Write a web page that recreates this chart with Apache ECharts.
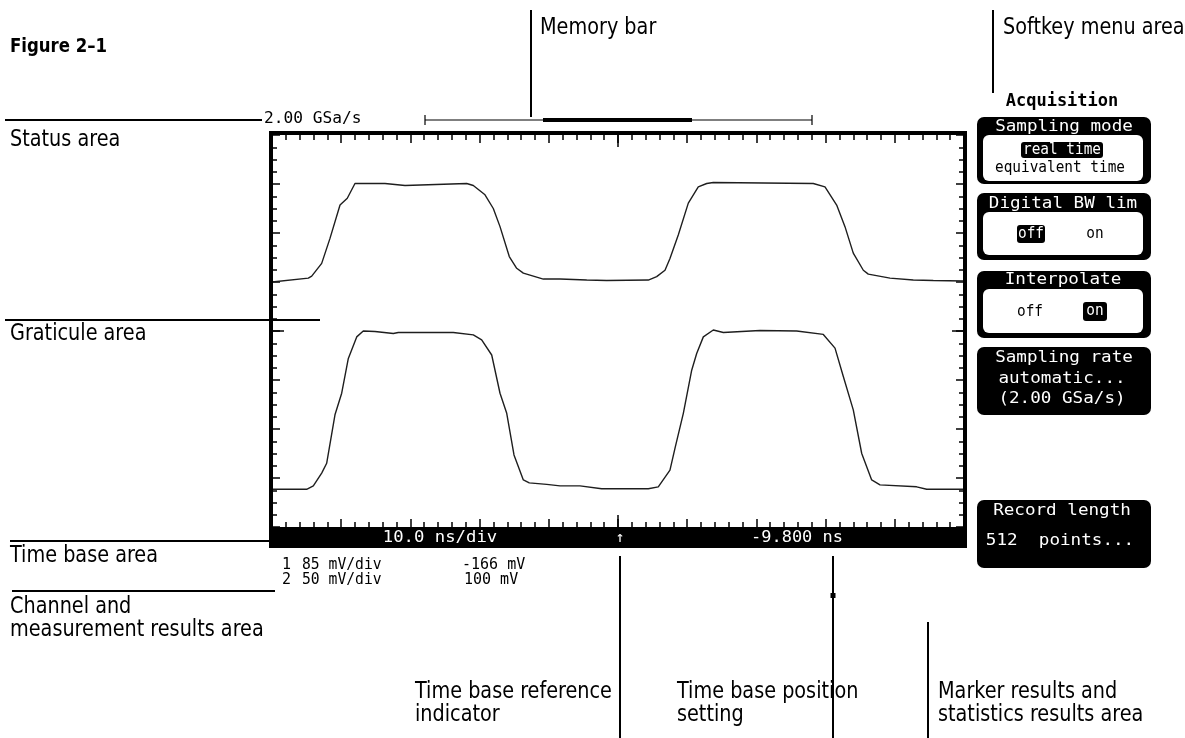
<!DOCTYPE html>
<html>
<head>
<meta charset="utf-8">
<title>Figure 2-1</title>
<script src="https://cdn.jsdelivr.net/npm/echarts@6/dist/echarts.min.js"></script>
<style>
html, body { margin: 0; padding: 0; background: #fff; }
#chart { width: 1185px; height: 738px; }
</style>
</head>
<body>
<div id="chart"></div>
<script>
// time in ns from left edge of the graticule (10 ns/div), level in divisions from the bottom
const ch1Time = [0, 5.25, 5.74, 7.18, 8.38, 9.83, 10.88, 11.99, 16.33, 16.58, 19.22, 19.47, 28.14, 29.09, 30.78, 31.98, 32.95, 34.29, 35.36, 36.32, 39.21, 41.62, 45.48, 48.37, 54.38, 55.59, 56.79, 57.51, 58.71, 60.16, 61.6, 62.82, 63.77, 78.22, 79.91, 81.6, 82.8, 84.0, 85.45, 86.17, 89.31, 92.67, 95.56, 100];
const ch1Level = [5.0, 5.08, 5.12, 5.38, 5.89, 6.57, 6.71, 7.01, 7.01, 6.97, 6.97, 7.01, 7.01, 6.97, 6.78, 6.5, 6.13, 5.52, 5.28, 5.18, 5.06, 5.06, 5.04, 5.03, 5.04, 5.11, 5.24, 5.48, 5.96, 6.61, 6.94, 7.01, 7.03, 7.01, 6.94, 6.57, 6.13, 5.59, 5.24, 5.16, 5.08, 5.04, 5.03, 5.02];
const ch2Time = [0, 5.01, 5.97, 7.18, 7.9, 9.1, 10.07, 11.03, 12.24, 13.19, 14.88, 17.53, 18.25, 26.2, 29.09, 30.3, 31.75, 32.95, 33.92, 34.97, 36.32, 37.18, 39.7, 41.62, 44.51, 47.64, 54.38, 55.82, 57.51, 58.24, 59.44, 60.65, 61.37, 62.33, 63.77, 65.22, 70.52, 75.82, 79.67, 81.36, 82.56, 84.0, 85.22, 86.66, 87.86, 93.16, 94.61, 100];
const ch2Level = [0.77, 0.77, 0.84, 1.1, 1.3, 2.29, 2.73, 3.44, 3.88, 4.0, 3.99, 3.95, 3.97, 3.97, 3.92, 3.82, 3.51, 2.73, 2.32, 1.47, 0.96, 0.9, 0.87, 0.84, 0.84, 0.78, 0.78, 0.82, 1.16, 1.61, 2.32, 3.2, 3.54, 3.88, 4.02, 3.97, 4.01, 4.0, 3.93, 3.65, 3.07, 2.39, 1.5, 0.96, 0.86, 0.82, 0.77, 0.77];

const timeRange = [0, 100];   // 10 divisions
const levelRange = [0, 8];    // 8 divisions

const statusText = '2.00 GSa/s';
const timebaseTexts = ['10.0 ns/div', '↑', '-9.800 ns'];
const channelRows = [['1', '85 mV/div', '-166 mV'], ['2', '50 mV/div', '100 mV']];

const chart = echarts.init(document.getElementById('chart'));

const NOTE = '23px "Liberation Sans Narrow", "DejaVu Sans Condensed", sans-serif';
const MONO = '"DejaVu Sans Mono", "Liberation Mono", monospace';

function line(x1, y1, x2, y2, w) {
    return { type: 'line', z: 50, shape: { x1, y1, x2, y2 }, style: { stroke: '#000', lineWidth: w || 2 } };
}
function label(x, y, text, font, fill, align, sx) {
    return {
        type: 'text', z: 60, x, y, scaleX: sx || 1,
        style: { text, font, fill: fill || '#000', textAlign: align || 'left', align: align || 'left', textVerticalAlign: 'middle', verticalAlign: 'middle' }
    };
}
function note(x, y, text) {
    return label(x, y, text, NOTE, '#000', 'left', 0.93);
}
function box(x, y, w, h, fill, r) {
    return { type: 'rect', z: 40, shape: { x, y, width: w, height: h, r: r || 0 }, style: { fill } };
}

const tickAxis = (pos, max, interval, split) => ({
    type: 'value', position: pos, min: 0, max, interval,
    axisLine: { show: false, onZero: false }, axisLabel: { show: false }, splitLine: { show: false },
    axisTick: { show: true, inside: true, length: 8, lineStyle: { color: '#000', width: 1.5 } },
    minorTick: { show: true, splitNumber: split, length: 5, lineStyle: { color: '#000', width: 1.5 } }
});

const KEY = '16px ' + MONO;
const graphics = [
    // annotations
    label(10, 47, 'Figure 2–1', 'bold 20px "Liberation Sans Narrow", "DejaVu Sans Condensed", sans-serif', '#000', 'left', 0.92),
    line(531, 10, 531, 117), note(540, 28, 'Memory bar'),
    line(993, 10, 993, 93), note(1003, 28, 'Softkey menu area'),
    line(5, 120, 262, 120), note(10, 140, 'Status area'),
    line(5, 320, 320, 320), note(10, 334, 'Graticule area'),
    line(10, 541, 270, 541), note(10, 556, 'Time base area'),
    line(12, 591, 275, 591), note(10, 607, 'Channel and'), note(10, 630, 'measurement results area'),
    line(620, 556, 620, 738), note(415, 692, 'Time base reference'), note(415, 715, 'indicator'),
    line(833, 556, 833, 738), { type: 'rect', z: 50, shape: { x: 830.5, y: 593, width: 5, height: 5 }, style: { fill: '#000' } },
    note(677, 692, 'Time base position'), note(677, 715, 'setting'),
    line(928, 622, 928, 738), note(938, 692, 'Marker results and'), note(938, 715, 'statistics results area'),

    // status line and memory bar
    label(264, 119, statusText, '15px ' + MONO, '#000', 'left', 1.08),
    line(425, 120, 812, 120, 1.2), line(425, 115, 425, 125, 1.2), line(812, 115, 812, 125, 1.2),
    line(543, 120, 692, 120, 4),

    // screen frame and time base bar
    { type: 'rect', z: 45, shape: { x: 271, y: 133, width: 694, height: 412 }, style: { fill: 'none', stroke: '#000', lineWidth: 4 } },
    box(269, 527, 698, 21, '#000'),
    label(440, 538, timebaseTexts[0], '16px ' + MONO, '#fff', 'center', 1.08),
    label(620, 538, timebaseTexts[1], '15px ' + MONO, '#fff', 'center'),
    label(797, 538, timebaseTexts[2], '16px ' + MONO, '#fff', 'center', 1.06),

    // channel rows
    label(282, 565, channelRows[0][0], '15px ' + MONO), label(302, 565, channelRows[0][1], '15px ' + MONO, '#000', 'left', 0.98), label(462, 565, channelRows[0][2], '15px ' + MONO, '#000', 'left', 1.0),
    label(282, 580, channelRows[1][0], '15px ' + MONO), label(302, 580, channelRows[1][1], '15px ' + MONO, '#000', 'left', 0.98), label(464, 580, channelRows[1][2], '15px ' + MONO, '#000', 'left', 1.0),

    // softkey menu
    label(1062, 102, 'Acquisition', 'bold 17px ' + MONO, '#000', 'center'),
    box(977, 117, 174, 67, '#000', 7), box(983, 135, 160, 46, '#fff', 6),
    label(1064, 127, 'Sampling mode', KEY, '#fff', 'center', 1.1),
    box(1021, 142, 82, 16, '#000', 3), label(1062, 150, 'real time', KEY, '#fff', 'center', 0.9),
    label(1060, 168, 'equivalent time', KEY, '#000', 'center', 0.9),

    box(977, 193, 174, 67, '#000', 7), box(983, 212, 160, 43, '#fff', 6),
    label(1063, 204, 'Digital BW lim', KEY, '#fff', 'center', 1.1),
    box(1017, 225, 28, 18, '#000', 3), label(1031, 234, 'off', KEY, '#fff', 'center', 0.9),
    label(1095, 234, 'on', KEY, '#000', 'center', 0.9),

    box(977, 271, 174, 67, '#000', 7), box(983, 289, 160, 44, '#fff', 6),
    label(1063, 280, 'Interpolate', KEY, '#fff', 'center', 1.1),
    label(1030, 312, 'off', KEY, '#000', 'center', 0.9),
    box(1083, 302, 24, 19, '#000', 3), label(1095, 311, 'on', KEY, '#fff', 'center', 0.9),

    box(977, 347, 174, 68, '#000', 7),
    label(1064, 358, 'Sampling rate', KEY, '#fff', 'center', 1.1),
    label(1062, 379, 'automatic...', KEY, '#fff', 'center', 1.1),
    label(1062, 399, '(2.00 GSa/s)', KEY, '#fff', 'center', 1.1),

    box(977, 500, 174, 68, '#000', 7),
    label(1062, 511, 'Record length', KEY, '#fff', 'center', 1.1),
    label(1060, 541, '512  points...', KEY, '#fff', 'center', 1.1)
];

const option = {
    backgroundColor: '#fff',
    animation: false,
    grid: { left: 272, top: 135, width: 692, height: 392, show: false },
    xAxis: [
        tickAxis('bottom', timeRange[1], 10, 5), tickAxis('top', timeRange[1], 10, 5)
    ],
    yAxis: [
        tickAxis('left', levelRange[1], 1, 4), tickAxis('right', levelRange[1], 1, 4)
    ],
    series: [
        {
            name: 'Channel 1', type: 'line', showSymbol: false, xAxisIndex: 0, yAxisIndex: 0,
            lineStyle: { color: '#1e1e1e', width: 1.4 },
            data: ch1Time.map((t, i) => [t, ch1Level[i]])
        },
        {
            name: 'Channel 2', type: 'line', showSymbol: false, xAxisIndex: 0, yAxisIndex: 0,
            lineStyle: { color: '#1e1e1e', width: 1.4 },
            data: ch2Time.map((t, i) => [t, ch2Level[i]])
        }
    ]
};

chart.setOption(option);

// longer ticks at the centre of the graticule
const cx = chart.convertToPixel({ xAxisIndex: 0 }, (timeRange[0] + timeRange[1]) / 2);
const cy = chart.convertToPixel({ yAxisIndex: 0 }, (levelRange[0] + levelRange[1]) / 2);
const x0 = chart.convertToPixel({ xAxisIndex: 0 }, timeRange[0]);
const x1 = chart.convertToPixel({ xAxisIndex: 0 }, timeRange[1]);
const y0 = chart.convertToPixel({ yAxisIndex: 0 }, levelRange[0]);
const y1 = chart.convertToPixel({ yAxisIndex: 0 }, levelRange[1]);
graphics.push(
    line(cx, y1, cx, y1 + 12, 1.5), line(cx, y0, cx, y0 - 12, 1.5),
    line(x0, cy, x0 + 12, cy, 1.5), line(x1, cy, x1 - 12, cy, 1.5)
);

chart.setOption({ graphic: graphics });
window.addEventListener('resize', function () {
    chart && chart.resize();
});
</script>
</body>
</html>
